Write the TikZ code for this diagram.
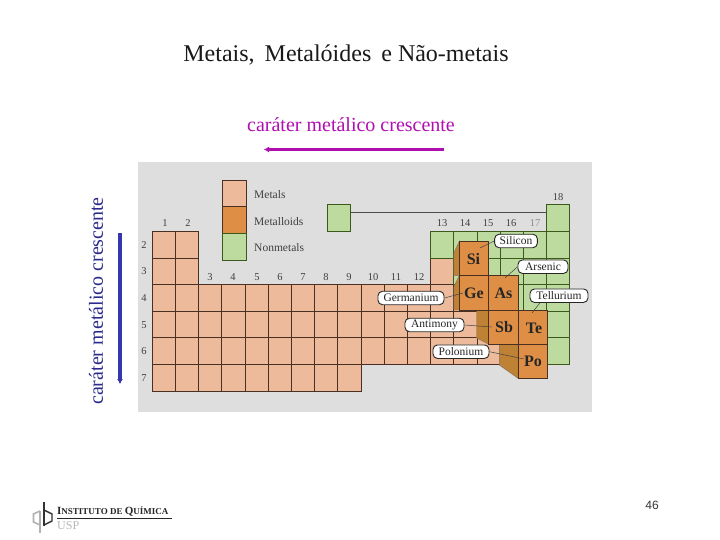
\documentclass[tikz,border=0pt]{standalone}
\usepackage{fontspec}
\setmainfont{Liberation Serif}
\setsansfont{Liberation Sans}
\usetikzlibrary{arrows.meta}
\definecolor{panelgray}{HTML}{DEDEDE}
\definecolor{metalfill}{HTML}{EDBB9B}
\definecolor{halffill}{HTML}{DF8F45}
\definecolor{halfside}{HTML}{BF8235}
\definecolor{nonfill}{HTML}{BDDB9E}
\definecolor{gridline}{HTML}{4A3022}
\definecolor{risepurple}{HTML}{B00FB0}
\definecolor{risenavy}{HTML}{3535AE}
\tikzset{
  metalcell/.style={fill=metalfill,draw=gridline,line width=0.9pt},
  noncell/.style={fill=nonfill,draw=gridline!80!green,line width=0.9pt},
  halfcell/.style={fill=halffill,draw=gridline,line width=0.8pt},
  halfface/.style={fill=halfside,draw=gridline!70,line width=0.4pt},
  groupnum/.style={font=\fontsize{10.5}{11}\selectfont,text=black!75},
  symb/.style={font=\fontsize{16}{17}\selectfont\bfseries,text=black!85},
  namelabel/.style={draw=black!85,fill=white,rounded corners=4.5pt,line width=0.9pt,
    font=\fontsize{11.5}{12}\selectfont,text=black!85,minimum height=13.5pt,inner sep=0pt},
  leader/.style={draw=black!75,line width=0.5pt},
  legendtext/.style={font=\fontsize{11.5}{12}\selectfont,text=black!75,anchor=west,inner sep=0pt},
}
\newcommand{\cell}[4]{% style, column, first row y, last row y
  \path[#1] ({152.3+23.2*#2},#3) rectangle ({152.3+23.2*(#2+1)},#4);}
\begin{document}
\begin{tikzpicture}[x=1pt,y=-1pt]
    \useasboundingbox (0,0) rectangle (720,540);
    \fill[white] (0,0) rectangle (720,540);
    % Title and the two arrows
    \node[font=\fontsize{24}{26}\selectfont,text=black!90] (title) at (346,55) {Metais,\, Metalóides\, e Não-metais};
    \node[font=\fontsize{20}{22}\selectfont,text=risepurple] (toptext) at (351,125) {caráter metálico crescente};
    \node[font=\fontsize{20}{22}\selectfont,text=risenavy!80!black,rotate=90] (sidetext) at (96,301) {caráter metálico crescente};
    \coordinate (topstart) at (444,149.5);
    \coordinate (topend) at (264,149.5);
    \coordinate (sidestart) at (120,233);
    \coordinate (sideend) at (120,384);
    \draw[risepurple,line width=3pt,-{Latex[length=5pt,width=6pt]}] (topstart)--(topend);
    \draw[risenavy,line width=3.6pt,-{Latex[length=5pt,width=6pt]}] (sidestart)--(sideend);
    % Grey panel
    \fill[panelgray] (138,162) rectangle (592,412);
    % Legend
    \path[metalcell] (222.7,180.3) rectangle (246,206.7);
    \path[halfcell] (222.7,206.7) rectangle (246,233.7);
    \path[noncell] (222.7,233.7) rectangle (246,260.3);
    \node[legendtext] (metals) at (254,195) {Metals};
    \node[legendtext] (metalloids) at (254,222) {Metalloids};
    \node[legendtext] (nonmetals) at (254,248) {Nonmetals};
    % Metal cells, by period
    \foreach \c in {0,1} {
      \cell{metalcell}{\c}{231.3}{258}
      \cell{metalcell}{\c}{258}{284.6}
    }
    \cell{metalcell}{12}{258}{284.6}
    \foreach \c in {0,...,13} {
      \cell{metalcell}{\c}{284.6}{311.2}
      \cell{metalcell}{\c}{311.2}{337.8}
    }
    \foreach \c in {0,...,14} {
      \cell{metalcell}{\c}{337.8}{364.4}
    }
    \foreach \c in {0,...,8} {
      \cell{metalcell}{\c}{364.4}{391}
    }
    % Nonmetal cells
    \path[noncell] (327.3,204.7) rectangle (350.7,231.3);
    \cell{noncell}{17}{204.7}{231.3}
    \foreach \c in {12,...,17} {
      \cell{noncell}{\c}{231.3}{258}
    }
    \foreach \c in {13,...,17} {
      \cell{noncell}{\c}{258}{284.6}
    }
    \foreach \c in {14,...,17} {
      \cell{noncell}{\c}{284.6}{311.2}
    }
    \foreach \c in {16,17} {
      \cell{noncell}{\c}{311.2}{337.8}
      \cell{noncell}{\c}{337.8}{364.4}
    }
    \draw[black!70,line width=0.8pt] (350.7,212.3)--(546.3,212.3);
    % Period numbers
    \foreach \p/\y in {2/245,3/271,4/298,5/325,6/351,7/378} {
      \node[groupnum] at (144,\y) {\p};
    }
    % Group numbers
    \foreach \g/\x in {1/165,2/188} {
      \node[groupnum] at (\x,223) {\g};
    }
    \foreach \g/\x in {3/210,4/233,5/257,6/280,7/303,8/326,9/349,10/373,11/396,12/419} {
      \node[groupnum] at (\x,277) {\g};
    }
    \foreach \g/\x in {13/442,14/465,15/488,16/511} {
      \node[groupnum] at (\x,223) {\g};
    }
    \node[groupnum,text=black!45] at (535,223) {17};
    \node[groupnum] at (558,197) {18};
    % Raised metalloids: side faces first
    \path[halfface] (459.3,241.3)--(453.8,253)--(453.8,275.3)--(459.3,275.3)--cycle;
    \path[halfface] (459.3,275.3)--(453.8,287)--(453.8,310)--(459.3,310)--cycle;
    \path[halfface] (476.7,310)--(488.3,310)--(488.3,344)--(476.7,338)--cycle;
    \path[halfface] (499.3,344)--(518,344)--(518,378.3)--(499.3,365)--cycle;
    \path[halfcell] (459.3,241.3) rectangle (488.3,275.3);
    \path[halfcell] (459.3,275.3) rectangle (488.3,310);
    \path[halfcell] (488.3,275.3) rectangle (518,310);
    \path[halfcell] (488.3,310) rectangle (518,344);
    \path[halfcell] (518,310) rectangle (547.7,344);
    \path[halfcell] (518,344) rectangle (547.7,378.3);
    \node[symb] (si) at (473.5,259) {Si};
    \node[symb] (ge) at (474,293) {Ge};
    \node[symb] (as) at (503.5,293) {As};
    \node[symb] (sb) at (504,327) {Sb};
    \node[symb] (te) at (534,328.5) {Te};
    \node[symb] (po) at (533,361) {Po};
    % Element names with their leaders
    \coordinate (sitip) at (480,248);
    \coordinate (astip) at (505,278);
    \coordinate (tetip) at (532,313);
    \coordinate (getip) at (463,293);
    \coordinate (sbtip) at (492,327);
    \coordinate (potip) at (524,359);
    \node[namelabel,minimum width=42.7pt] (silicon) at (516,241) {Silicon};
    \node[namelabel,minimum width=50pt] (arsenic) at (543,266.7) {Arsenic};
    \node[namelabel,minimum width=58pt] (tellurium) at (559,295.7) {Tellurium};
    \node[namelabel,minimum width=66pt] (germanium) at (411,298) {Germanium};
    \node[namelabel,minimum width=59pt] (antimony) at (434.5,325) {Antimony};
    \node[namelabel,minimum width=56pt] (polonium) at (461,351.7) {Polonium};
    \draw[leader] (silicon.west)--(sitip);
    \draw[leader] (arsenic.west)--(astip);
    \draw[leader] (tellurium)+(-19,7)--(tetip);
    \draw[leader] (germanium.east)--(getip);
    \draw[leader] (antimony.east)--(sbtip);
    \draw[leader] (polonium.east)--(potip);
    % Page number
    \node[font=\sffamily\fontsize{12}{14}\selectfont,text=black!80] (pagenum) at (652,505) {46};
    % Institute mark
    \draw[black!30,line width=1.6pt] (40,511)--(33.5,514)--(33.5,522)--(40,525);
    \draw[black!30,line width=1.1pt] (40,511)--(40,533);
    \draw[black!80,line width=1.2pt] (44,502)--(44,526);
    \draw[black!80,line width=1.4pt] (44,510)--(52,514)--(52,521)--(44,525);
    \node[font=\fontsize{11}{12}\selectfont\bfseries,anchor=west,inner sep=0pt,text=black!85] (institute) at (57,512) {I\fontsize{9}{12}\selectfont NSTITUTO DE \fontsize{11}{12}\selectfont Q\fontsize{9}{12}\selectfont UÍMICA};
    \draw[black!85,line width=0.8pt] (57,518)--(172,518);
    \node[font=\fontsize{12}{12}\selectfont,text=black!28,anchor=west,inner sep=0pt] (usp) at (57,526) {USP};
\end{tikzpicture}
\end{document}
